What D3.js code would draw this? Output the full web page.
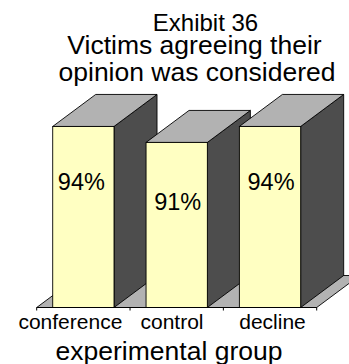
<!DOCTYPE html>
<html>
<head>
<meta charset="utf-8">
<script src="https://cdnjs.cloudflare.com/ajax/libs/d3/7.8.5/d3.min.js"></script>
<style>
html, body { margin: 0; padding: 0; background: #fff; }
svg { display: block; }
text { font-family: "Liberation Sans", Arial, sans-serif; fill: #000; }
</style>
</head>
<body>
<svg id="chart" width="349" height="364"></svg>
<script>
// Agreement share per experimental group
const categories = ["conference", "control", "decline"];
const percentages = [94, 91, 94];
const titleLines = ["Exhibit 36", "Victims agreeing their", "opinion was considered"];
const axisTitle = "experimental group";

const svg = d3.select("#chart");

// Value axis starts at 60%, as the plotted bars do
const y = d3.scaleLinear().domain([60, 100]).range([307.5, 94.5]);
const x = d3.scaleBand().domain(categories).range([36.7, 316.7]);
const barWidth = 61.3;
const depthX = 43;
const depthY = -32;
const barLeft = c => x(c) + (x.bandwidth() - barWidth) / 2;

const line = "#000";
const pts = a => a.map(p => p.join(",")).join(" ");

// Floor of the 3D plot, clipped by the right edge of the page
svg.append("polygon")
  .attr("points", pts([[x.range()[0], y(60)], [x.range()[1], y(60)],
    [x.range()[1] + depthX, y(60) + depthY], [x.range()[0] + depthX, y(60) + depthY]]))
  .attr("fill", "#b2b2b2").attr("stroke", line).attr("stroke-width", 0.9);

// Bars: side, top, then front face
const bars = svg.selectAll("g.bar")
  .data(categories.map((c, i) => ({ c, v: percentages[i], i })))
  .join("g").attr("class", "bar");

bars.append("polygon")
  .attr("points", d => {
    const r = barLeft(d.c) + barWidth;
    return pts([[r, y(d.v)], [r + depthX, y(d.v) + depthY], [r + depthX, y(60) + depthY], [r, y(60)]]);
  })
  .attr("fill", "#4d4d4d").attr("stroke", line).attr("stroke-width", 0.9);

bars.append("polygon")
  .attr("points", d => {
    const l = barLeft(d.c), r = l + barWidth;
    return pts([[l, y(d.v)], [r, y(d.v)], [r + depthX, y(d.v) + depthY], [l + depthX, y(d.v) + depthY]]);
  })
  .attr("fill", "#b2b2b2").attr("stroke", line).attr("stroke-width", 0.9);

bars.append("rect")
  .attr("x", d => barLeft(d.c))
  .attr("y", d => y(d.v))
  .attr("width", barWidth)
  .attr("height", d => y(60) - y(d.v))
  .attr("fill", "#ffffc2").attr("stroke", line).attr("stroke-width", 0.9);

// Value labels sit inside the front faces, nudged per bar
const valueNudgeX = [-2, 1, 1];
const valueNudgeY = [64, 67.2, 64];
bars.append("text")
  .attr("x", d => barLeft(d.c) + barWidth / 2 + valueNudgeX[d.i])
  .attr("y", d => y(d.v) + valueNudgeY[d.i])
  .attr("text-anchor", "middle")
  .attr("font-size", 23.5)
  .text(d => d.v + "%");

// Category axis along the front edge of the floor
const axis = svg.append("g").attr("transform", `translate(0,${y(60)})`);
axis.append("line")
  .attr("x1", x.range()[0]).attr("x2", x.range()[1])
  .attr("stroke", line);
axis.selectAll("line.tick")
  .data(d3.range(categories.length + 1))
  .join("line").attr("class", "tick")
  .attr("x1", i => x.range()[0] + i * x.step())
  .attr("x2", i => x.range()[0] + i * x.step())
  .attr("y1", 0).attr("y2", 3)
  .attr("stroke", line);

const labelOffsets = [-13, -4.7, 2.5];
axis.selectAll("text")
  .data(categories)
  .join("text")
  .attr("x", (c, i) => x(c) + x.bandwidth() / 2 + labelOffsets[i])
  .attr("y", 21)
  .attr("text-anchor", "middle")
  .attr("font-size", 21)
  .text(c => c);

svg.append("text")
  .attr("x", 169).attr("y", 360)
  .attr("text-anchor", "middle")
  .attr("font-size", 26.5)
  .text(axisTitle);

// Title block
svg.selectAll("text.title")
  .data(titleLines)
  .join("text").attr("class", "title")
  .attr("x", (d, i) => [205.5, 194.5, 197][i])
  .attr("y", (d, i) => [31, 54, 80.5][i])
  .attr("text-anchor", "middle")
  .attr("font-size", (d, i) => i === 0 ? 24 : 26.5)
  .text(d => d);
</script>
</body>
</html>
